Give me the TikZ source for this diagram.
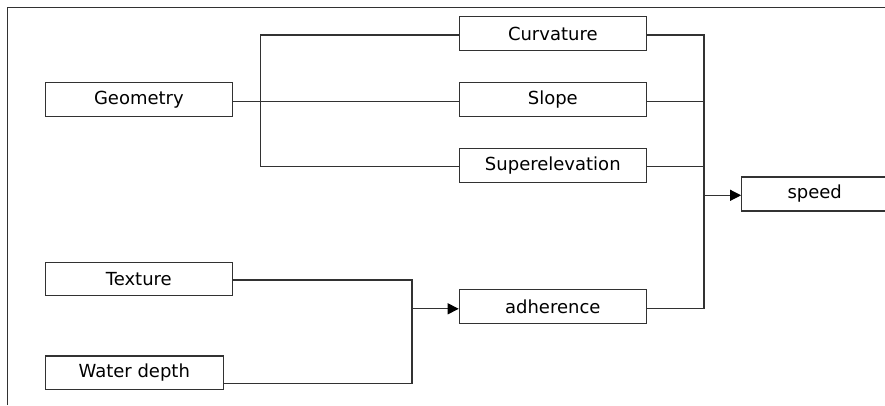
\documentclass[tikz,border=0pt]{standalone}
\usepackage{fontspec}
\setmainfont{DejaVu Sans}
\usetikzlibrary{arrows.meta}
\definecolor{ln}{RGB}{50,50,50}
\begin{document}
\begin{tikzpicture}[x=1pt,y=-1pt,
  box/.style={draw=ln, line width=1.2pt, minimum height=34pt, inner sep=0pt,
    font=\fontsize{18}{21}\selectfont, text=black},
  wire/.style={draw=ln, line width=1.2pt},
  arr/.style={wire, -{Triangle[length=11pt,width=11pt,fill=black,color=black]}}]
\useasboundingbox (0,0) rectangle (885,405);
% frame
\coordinate (fa) at (7.7,405);
\coordinate (fb) at (7.7,7.7);
\coordinate (fc) at (886,7.7);
\draw[wire] (fa) -- (fb) -- (fc);
% boxes
\node[box, minimum width=187pt] (geo)   at (138.9,99.2)  {Geometry};
\node[box, minimum width=187pt] (curv)  at (552.8,33.7)  {Curvature};
\node[box, minimum width=187pt] (slope) at (552.8,99.2)  {Slope};
\node[box, minimum width=187pt] (sup)   at (552.8,165.7) {Superelevation};
\node[box, minimum width=146pt] (speed) at (814.7,194)   {speed};
\node[box, minimum width=187pt, minimum height=33.4pt] (tex) at (138.8,279) {Texture};
\node[box, minimum width=178pt, minimum height=33.4pt] (wat) at (134.3,372.7) {Water depth};
\node[box, minimum width=187pt] (adh)   at (552.8,306.3) {adherence};
% bus coordinates
\coordinate (lt) at (260.7,35);
\coordinate (lb) at (260.7,166.7);
\coordinate (rt) at (704,35);
\coordinate (rb) at (704,308.8);
\coordinate (rs) at (704,195.3);
\coordinate (bt) at (412,280);
\coordinate (bb) at (412,383.3);
\coordinate (bm) at (412,308.8);
% geometry group
\draw[wire] ([yshift=-2.5pt]geo.east) -- ([yshift=-2.5pt]slope.west);
\draw[wire] ([yshift=-1.3pt]curv.west) -- (lt) -- (lb) -- ([yshift=-1pt]sup.west);
% right bus
\draw[wire] ([yshift=-1.3pt]curv.east) -- (rt) -- (rb) -- ([yshift=-2.5pt]adh.east);
\draw[wire] ([yshift=-2.5pt]slope.east) -| (rt);
\draw[wire] ([yshift=-1pt]sup.east) -| (rt);
\draw[arr] (rs) -- ([yshift=-1.3pt]speed.west);
% adherence group
\draw[wire] ([yshift=-1pt]tex.east) -- (bt) -- (bb) -- ([yshift=-10.6pt]wat.east);
\draw[arr] (bm) -- ([yshift=-2.5pt]adh.west);
\end{tikzpicture}
\end{document}
